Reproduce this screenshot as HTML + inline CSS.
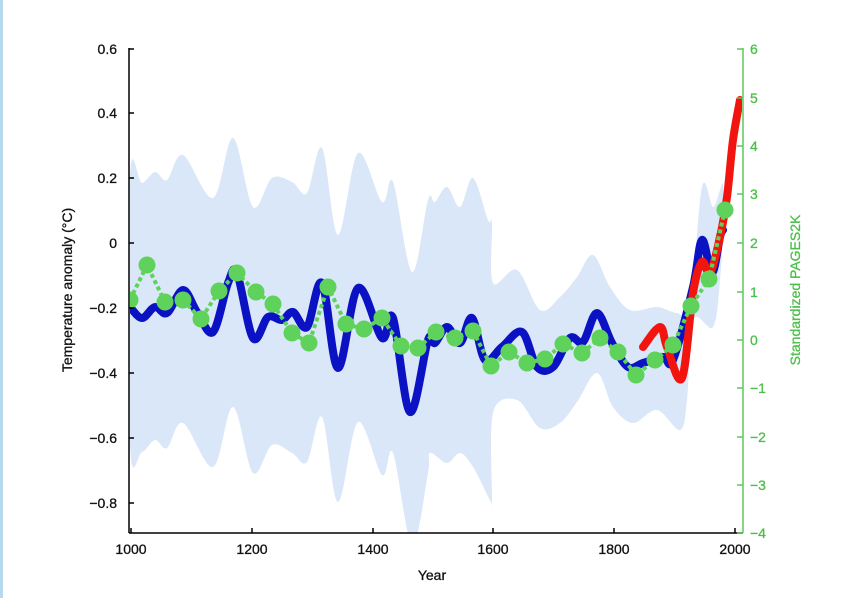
<!DOCTYPE html>
<html><head><meta charset="utf-8"><style>
html,body{margin:0;padding:0;background:#fff;}
svg{display:block;}
text{font-family:"Liberation Sans",Arial,sans-serif;}
</style></head><body>
<svg id="s" width="863" height="598" viewBox="0 0 863 598" xmlns="http://www.w3.org/2000/svg">
<rect x="0" y="0" width="863" height="598" fill="#fff"/>
<rect x="0" y="0" width="3" height="598" fill="#b5daf0"/>
<defs><clipPath id="pc"><rect x="130" y="40" width="612" height="493"/></clipPath></defs>
<g clip-path="url(#pc)">
<polygon class="sm" fill="#dae7f8" points="130,177 142,183 155,172 167,180 183,155 213,198 233,138 253,207 272,178 292,182 307,193 322,148 338,235 358,153 382,202 393,182 412,272 428,200 435,202 447,187 460,207 473,178 488,220 492,223 493,283 517,270 540,310 560,297 577,277 593,255 610,287 630,310 657,307 677,313 690,307 702,187 713,207 720,190 723,185 723,223 720,280 713,327 693,320 687,400 680,430 657,410 633,423 613,407 597,373 577,402 560,423 540,428 517,400 493,413 492,500 490,500 473,467 460,453 447,463 430,453 428,473 412,545 393,453 382,475 358,422 338,502 322,417 307,462 292,453 272,445 253,473 233,407 213,467 183,423 167,448 155,440 142,452 130,445"/>
<polyline class="sm" fill="none" stroke="#0a12c4" stroke-width="8" stroke-linejoin="round" stroke-linecap="round" points="130,307 142,318 155,307 167,313 183,290 197,312 213,332 228,283 237,273 253,338 268,317 282,320 293,312 307,327 322,283 338,368 358,288 382,338 393,318 410,412 428,340 435,343 447,327 460,343 472,318 485,360 502,347 522,332 537,367 553,367 570,338 583,342 597,313 612,343 628,367 643,363 663,357 673,360 693,287 702,240 712,273 720,237 723,230"/>
<polyline class="sm" fill="none" stroke="#f2150f" stroke-width="8" stroke-linejoin="round" stroke-linecap="round" points="643,347 660,327 667,347 682,378 693,293 702,262 710,273 720,237 727,197 733,140 740,100"/>
<g fill="#5ed25a">
<polyline fill="none" stroke="#5ed25a" stroke-width="4" stroke-dasharray="4 3" points="130,300 147,265 165,302 183,300 201,319 219,291 237,273 256,292 273,304 292,333 309,343 328,287 346,324 364,329 382,318 401,346 418,348 436,332 455,338 473,331 491,366 509,352 527,363 545,359 563,344 582,353 600,338 618,352 636,375 655,360 673,345 691,306 709,279 725,210"/>
<circle cx="130" cy="300" r="8.5"/><circle cx="147" cy="265" r="8.5"/><circle cx="165" cy="302" r="8.5"/><circle cx="183" cy="300" r="8.5"/><circle cx="201" cy="319" r="8.5"/><circle cx="219" cy="291" r="8.5"/><circle cx="237" cy="273" r="8.5"/><circle cx="256" cy="292" r="8.5"/><circle cx="273" cy="304" r="8.5"/><circle cx="292" cy="333" r="8.5"/><circle cx="309" cy="343" r="8.5"/><circle cx="328" cy="287" r="8.5"/><circle cx="346" cy="324" r="8.5"/><circle cx="364" cy="329" r="8.5"/><circle cx="382" cy="318" r="8.5"/><circle cx="401" cy="346" r="8.5"/><circle cx="418" cy="348" r="8.5"/><circle cx="436" cy="332" r="8.5"/><circle cx="455" cy="338" r="8.5"/><circle cx="473" cy="331" r="8.5"/><circle cx="491" cy="366" r="8.5"/><circle cx="509" cy="352" r="8.5"/><circle cx="527" cy="363" r="8.5"/><circle cx="545" cy="359" r="8.5"/><circle cx="563" cy="344" r="8.5"/><circle cx="582" cy="353" r="8.5"/><circle cx="600" cy="338" r="8.5"/><circle cx="618" cy="352" r="8.5"/><circle cx="636" cy="375" r="8.5"/><circle cx="655" cy="360" r="8.5"/><circle cx="673" cy="345" r="8.5"/><circle cx="691" cy="306" r="8.5"/><circle cx="709" cy="279" r="8.5"/><circle cx="725" cy="210" r="8.5"/>
</g>
</g>
<g stroke="#000" stroke-width="1.5" fill="none">
<line x1="129" y1="48" x2="129" y2="533"/>
<line x1="129" y1="533" x2="743" y2="533"/>
<line x1="129" y1="49" x2="134" y2="49"/><line x1="129" y1="113" x2="134" y2="113"/><line x1="129" y1="178" x2="134" y2="178"/><line x1="129" y1="243" x2="134" y2="243"/><line x1="129" y1="308" x2="134" y2="308"/><line x1="129" y1="373" x2="134" y2="373"/><line x1="129" y1="438" x2="134" y2="438"/><line x1="129" y1="503" x2="134" y2="503"/>
<line x1="131" y1="533" x2="131" y2="528"/><line x1="252" y1="533" x2="252" y2="528"/><line x1="373" y1="533" x2="373" y2="528"/><line x1="493" y1="533" x2="493" y2="528"/><line x1="614" y1="533" x2="614" y2="528"/><line x1="735" y1="533" x2="735" y2="528"/>
</g>
<g font-size="14" text-anchor="end" fill="#111" stroke="#111" stroke-width="0.3">
<text x="117" y="54">0.6</text><text x="117" y="118">0.4</text><text x="117" y="183">0.2</text><text x="117" y="248">0</text><text x="117" y="313">−0.2</text><text x="117" y="378">−0.4</text><text x="117" y="443">−0.6</text><text x="117" y="508">−0.8</text>
</g>
<g font-size="14" text-anchor="middle" fill="#111" stroke="#111" stroke-width="0.3">
<text x="131" y="554">1000</text><text x="252" y="554">1200</text><text x="373" y="554">1400</text><text x="493" y="554">1600</text><text x="614" y="554">1800</text><text x="735" y="554">2000</text>
<text x="432" y="580">Year</text>
<text transform="translate(72,290) rotate(-90)">Temperature anomaly (°C)</text>
</g>
<g stroke="#5cc85a" stroke-width="1.5">
<line x1="743" y1="48" x2="743" y2="533"/>
<line x1="737" y1="49" x2="743" y2="49"/><line x1="737" y1="98" x2="743" y2="98"/><line x1="737" y1="146" x2="743" y2="146"/><line x1="737" y1="194" x2="743" y2="194"/><line x1="737" y1="243" x2="743" y2="243"/><line x1="737" y1="292" x2="743" y2="292"/><line x1="737" y1="340" x2="743" y2="340"/><line x1="737" y1="388" x2="743" y2="388"/><line x1="737" y1="437" x2="743" y2="437"/><line x1="737" y1="485" x2="743" y2="485"/><line x1="737" y1="533" x2="743" y2="533"/>
</g>
<g font-size="14" fill="#4cbf4a" stroke="#4cbf4a" stroke-width="0.3">
<text x="750" y="54">6</text><text x="750" y="103">5</text><text x="750" y="151">4</text><text x="750" y="199">3</text><text x="750" y="248">2</text><text x="750" y="297">1</text><text x="750" y="345">0</text><text x="750" y="393">−1</text><text x="750" y="442">−2</text><text x="750" y="490">−3</text><text x="750" y="538">−4</text>
<text text-anchor="middle" transform="translate(800,290) rotate(-90)">Standardized PAGES2K</text>
</g>
</svg>
<script>
(function(){
var NS="http://www.w3.org/2000/svg";
document.querySelectorAll(".sm").forEach(function(el){
  var pts=el.getAttribute("points").trim().split(/\s+/).map(function(p){var a=p.split(",");return [+a[0],+a[1]];});
  var closed=el.tagName.toLowerCase()==="polygon";
  var n=pts.length, d="M"+pts[0][0]+","+pts[0][1];
  function P(i){ if(closed){return pts[(i+n)%n];} return pts[Math.max(0,Math.min(n-1,i))]; }
  var last=closed?n:n-1;
  for(var i=0;i<last;i++){
    var p0=P(i-1),p1=P(i),p2=P(i+1),p3=P(i+2);
    var c1x=p1[0]+(p2[0]-p0[0])/6,c1y=p1[1]+(p2[1]-p0[1])/6;
    var c2x=p2[0]-(p3[0]-p1[0])/6,c2y=p2[1]-(p3[1]-p1[1])/6;
    d+=" C"+c1x.toFixed(1)+","+c1y.toFixed(1)+" "+c2x.toFixed(1)+","+c2y.toFixed(1)+" "+p2[0]+","+p2[1];
  }
  if(closed)d+="Z";
  var path=document.createElementNS(NS,"path");
  for(var k=0;k<el.attributes.length;k++){var at=el.attributes[k];if(at.name!=="points"&&at.name!=="class")path.setAttribute(at.name,at.value);}
  path.setAttribute("d",d);
  el.parentNode.replaceChild(path,el);
});
})();
</script>
</body></html>
